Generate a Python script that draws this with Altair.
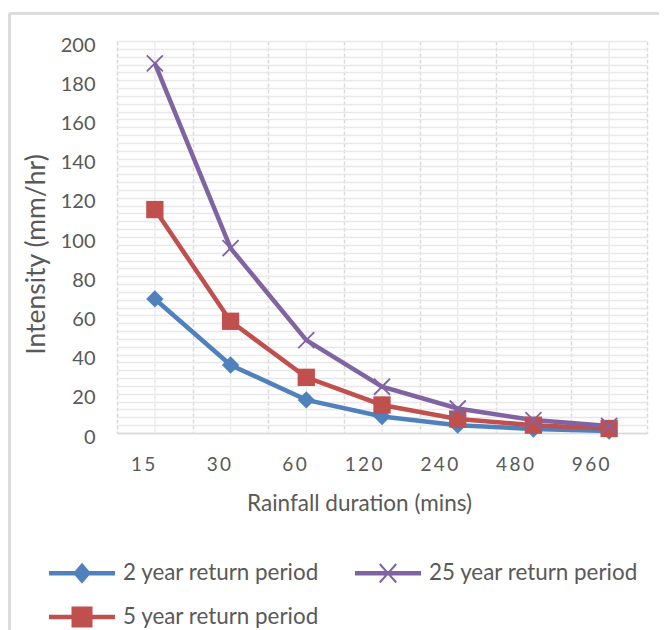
import altair as alt
import pandas as pd

durations = ["15", "30", "60", "120", "240", "480", "960"]
series = ["2 year return period", "5 year return period", "25 year return period"]
colors = ["#4f81bd", "#c0504d", "#8064a2"]
two_year = [68.4, 34.7, 16.9, 8.4, 4.0, 2.0, 1.0]
five_year = [114.0, 57.0, 28.4, 14.3, 7.1, 4.0, 2.3]
twentyfive_year = [188.6, 94.3, 47.4, 23.6, 12.5, 6.6, 3.6]

rows = []
for name, vals in zip(series, [two_year, five_year, twentyfive_year]):
    for d, v in zip(durations, vals):
        rows.append({"duration": d, "series": name, "intensity": v})
df = pd.DataFrame(rows)
cat_df = pd.DataFrame({"duration": durations})

FONT = "Lato"
TXT = "#595959"

# marker shapes in the plot
cross = ("M-1,-0.85 L-0.85,-1 L1,0.85 L0.85,1 Z "
         "M1,-0.85 L-0.85,1 L-1,0.85 L0.85,-1 Z")
plot_shapes = ["diamond", "square", cross]

# legend symbols: line + marker
line = "M-2.2,-0.15 L2.2,-0.15 L2.2,0.15 L-2.2,0.15 Z "
leg_diamond = line + "M0,-0.7 L0.6,0 L0,0.7 L-0.6,0 Z"
leg_square = line + "M-0.7,-0.7 L0.7,-0.7 L0.7,0.7 L-0.7,0.7 Z"
leg_cross = line + ("M-0.6,-0.57 L-0.5,-0.67 L0.6,0.57 L0.5,0.67 Z "
                    "M0.6,-0.57 L-0.5,0.67 L-0.6,0.57 L0.5,-0.67 Z")
legend_shapes = [leg_diamond, leg_square, leg_cross]

y_ticks = list(range(0, 201, 4))

x_enc = alt.X(
    "duration:N",
    sort=durations,
    scale=alt.Scale(type="band", paddingInner=0, paddingOuter=0),
    axis=alt.Axis(
        title="Rainfall duration (mins)",
        tickBand="extent",
        grid=True,
        gridColor="#d9d9d9",
        gridDash=[4, 2],
        gridWidth=1.5,
        ticks=False,
        domain=True,
        domainColor="#d9d9d9",
        domainWidth=1.5,
        labelAngle=0,
        labelPadding=31,
        labelFontSize=19,
        labelExpr="join(split(datum.label, ''), '\u2009')",
        titlePadding=18,
        titleFontSize=22.5,
        titleX=242,
    ),
)
y_enc = alt.Y(
    "intensity:Q",
    scale=alt.Scale(domain=[0, 200], nice=False),
    axis=alt.Axis(
        title="Intensity (mm/hr)",
        values=y_ticks,
        tickCount=len(y_ticks),
        labelExpr="datum.value % 20 == 0 ? datum.label : ''",
        labelOverlap=False,
        grid=True,
        gridColor="#e8e8e8",
        gridWidth=1.5,
        ticks=False,
        domain=False,
        labelPadding=22,
        labelOffset=4,
        labelFontSize=20,
        titlePadding=10,
        titleFontSize=26.5,
        titleY=213,
    ),
)

color_scale = alt.Scale(domain=series, range=colors)

center_lines = alt.Chart(cat_df).mark_rule(color="#ececec", strokeWidth=1.5).encode(
    x=alt.X("duration:N", sort=durations)
)

lines = alt.Chart(df).mark_line(strokeWidth=4.5).encode(
    x=x_enc,
    y=y_enc,
    color=alt.Color("series:N", scale=color_scale, legend=None),
    detail="series:N",
)

points = alt.Chart(df).mark_point(filled=True, size=300, opacity=1, strokeWidth=0).encode(
    x=alt.X("duration:N", sort=durations),
    y="intensity:Q",
    color=alt.Color("series:N", scale=color_scale, legend=None),
    shape=alt.Shape("series:N", scale=alt.Scale(domain=series, range=plot_shapes), legend=None),
)

legend_opts = dict(
    title=None,
    orient="none",
    legendX=-50,
    legendY=517,
    columns=2,
    symbolSize=900,
    symbolStrokeWidth=0,
    labelFont=FONT,
    labelFontSize=22.4,
    labelColor=TXT,
    labelOffset=26,
    labelLimit=400,
    rowPadding=17,
    columnPadding=35,
    padding=0,
)

legend_layer = alt.Chart(df).transform_filter("false").mark_point(
    filled=True, opacity=1, strokeWidth=0
).encode(
    color=alt.Color("series:N", scale=color_scale, legend=alt.Legend(**legend_opts)),
    shape=alt.Shape(
        "series:N",
        scale=alt.Scale(domain=series, range=legend_shapes),
        legend=alt.Legend(**legend_opts),
    ),
)

border_left = alt.Chart(cat_df).mark_rule(color="#d9d9d9", strokeWidth=1.5, clip=False).encode(
    x=alt.value(-107.5), y=alt.value(-27.5), y2=alt.value(620)
)
border_top = alt.Chart(cat_df).mark_rule(color="#d9d9d9", strokeWidth=1.5, clip=False).encode(
    x=alt.value(-107.5), x2=alt.value(543), y=alt.value(-27.5)
)

chart = alt.layer(
    center_lines, lines, points, legend_layer, border_left, border_top
).resolve_scale(
    color="independent", shape="independent"
).resolve_legend(
    color="independent", shape="independent"
).properties(
    width=530,
    height=392,
    autosize=alt.AutoSizeParams(type="none"),
    padding={"left": 109, "top": 33, "right": 12, "bottom": 200},
).configure_view(
    stroke=None
).configure_axis(
    labelFont=FONT,
    titleFont=FONT,
    labelColor=TXT,
    titleColor=TXT,
    titleFontWeight="normal",
)

chart.save("out.html", embed_options={"renderer": "svg", "actions": False})
